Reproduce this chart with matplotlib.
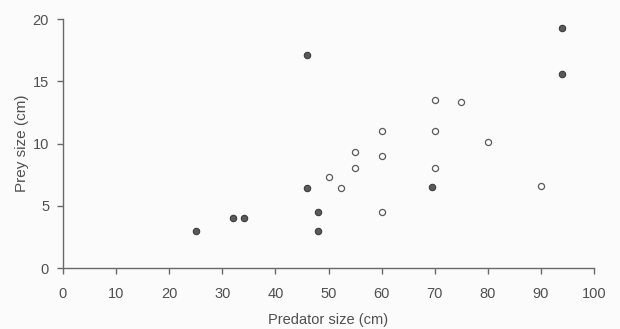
import matplotlib
matplotlib.use('Agg')
import matplotlib.pyplot as plt

# filled circles
filled_x = [25, 32, 34, 46, 46, 48, 48, 69.5, 94, 94]
filled_y = [3.0, 4.0, 4.0, 17.1, 6.4, 4.5, 3.0, 6.5, 19.3, 15.6]

# open circles
open_x = [50, 52.3, 55, 55, 60, 60, 60, 70, 70, 70, 75, 80, 90]
open_y = [7.3, 6.4, 9.3, 8.0, 11.0, 9.0, 4.5, 13.5, 11.0, 8.0, 13.3, 10.1, 6.6]

x_ticks = list(range(0, 101, 10))
y_ticks = [0, 5, 10, 15, 20]

plt.rcParams['font.family'] = ['Liberation Sans', 'DejaVu Sans']

fig = plt.figure(figsize=(6.2, 3.29), dpi=100, facecolor='#fbfbfb')
ax = fig.add_axes([0.1016, 0.1854, 0.8565, 0.7568])
ax.set_facecolor('#fbfbfb')

ax.plot(filled_x, filled_y, linestyle='none', marker='o', markersize=4.6,
        markerfacecolor='#5a5a5a', markeredgecolor='#3c3c3c', markeredgewidth=0.8,
        clip_on=False, zorder=3)
ax.plot(open_x, open_y, linestyle='none', marker='o', markersize=4.4,
        markerfacecolor='white', markeredgecolor='#5a5a5a', markeredgewidth=0.9,
        clip_on=False, zorder=3)

ax.set_xlim(0, 100)
ax.set_ylim(0, 20)
ax.set_xticks(x_ticks)
ax.set_yticks(y_ticks)

for s in ['top', 'right']:
    ax.spines[s].set_visible(False)
for s in ['left', 'bottom']:
    ax.spines[s].set_color('#6a6a6a')
    ax.spines[s].set_linewidth(1.0)

ax.tick_params(axis='both', direction='out', length=4, width=1.0, color='#6a6a6a',
               labelsize=10.5, labelcolor='#505050')
ax.tick_params(axis='x', pad=9.5)
ax.tick_params(axis='y', pad=6)

ax.set_xlabel('Predator size (cm)', fontsize=10.5, color='#505050', labelpad=9)
ax.set_ylabel('Prey size (cm)', fontsize=11, color='#505050', labelpad=3)

fig.savefig('out.png', dpi=100, facecolor=fig.get_facecolor())
